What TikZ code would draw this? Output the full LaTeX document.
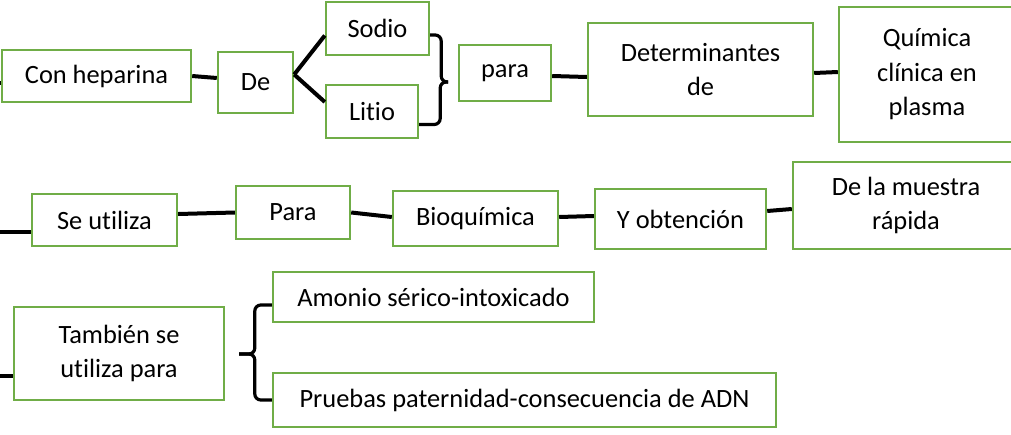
\documentclass[tikz,border=0pt]{standalone}
\usepackage{fontspec}
\setmainfont[Ligatures=NoCommon]{Carlito}
\usepackage{xcolor}
\definecolor{boxgreen}{RGB}{112,173,71}
\usetikzlibrary{positioning,calc}

\begin{document}
\begin{tikzpicture}[x=1pt, y=-1pt,
		box/.style={draw=boxgreen, line width=2.4pt, rectangle, align=center, inner sep=2pt,
			font=\fontsize{26.4}{34.5}\selectfont},
		link/.style={line width=4pt},
		brace/.style={line width=3.2pt, rounded corners=6pt}]
	\fill[white] (0,0) rectangle (1011,434);
	\useasboundingbox (0,0) rectangle (1011,434);
	% fila 1
	\node [box, minimum width=189pt, minimum height=52pt] (heparina) at (96.5,76) {Con heparina};
	\node [box, minimum width=75pt, minimum height=61pt] (de) at (255.5,82.5) {De};
	\node [box, minimum width=103pt, minimum height=53pt] (sodio) at (377.5,28.5) {Sodio};
	\node [box, minimum width=92pt, minimum height=53pt] (litio) at (372,111.5) {Litio};
	\node [box, minimum width=92pt, minimum height=56pt] (para) at (505,73) {para};
	\node [box, minimum width=225pt, minimum height=93pt] (determinantes) at (700.5,69.5) {Determinantes\\de};
	\node [box, minimum width=176pt, minimum height=135pt] (quimica) at (927,74.5) {Química\\clínica en\\plasma};
	\coordinate (s1) at (0,83);
	\coordinate (b1tip) at (448,82);
	\draw [link] (s1) -- ([yshift=-7pt]heparina.west);
	\draw [link] (heparina.east) -- ([yshift=4.5pt]de.west);
	\draw [link] ([yshift=8pt]de.east) -- ([yshift=-7pt]sodio.west);
	\draw [link] ([yshift=8pt]de.east) -- ([yshift=9.5pt]litio.west);
	\draw [brace] ([yshift=-6.5pt]sodio.east) -- ++(11,0) |- (b1tip);
	\draw [brace] ([yshift=-13pt]litio.east) -- ++(21,0) |- (b1tip);
	\draw [link] ([yshift=-3pt]para.east) -- ([yshift=-7.5pt]determinantes.west);
	\draw [link] ([yshift=-3.5pt]determinantes.east) -- ([yshift=2.5pt]quimica.west);
	% fila 2
	\node [box, minimum width=145pt, minimum height=52pt] (seutiliza) at (104.5,220) {Se utiliza};
	\node [box, minimum width=114pt, minimum height=53pt] (para2) at (293,212.5) {Para};
	\node [box, minimum width=165pt, minimum height=55pt] (bioquimica) at (475.5,218.5) {Bioquímica};
	\node [box, minimum width=171pt, minimum height=60pt] (obtencion) at (680.5,219) {Y obtención};
	\node [box, minimum width=226pt, minimum height=87pt] (muestra) at (906,205.5) {De la muestra\\rápida};
	\coordinate (s2) at (0,232);
	\draw [link] (s2) -- ([yshift=-12pt]seutiliza.west);
	\draw [link] ([yshift=6pt]seutiliza.east) -- (para2.west);
	\draw [link] (para2.east) -- ([yshift=1.5pt]bioquimica.west);
	\draw [link] ([yshift=1.5pt]bioquimica.east) -- ([yshift=3pt]obtencion.west);
	\draw [link] ([yshift=8pt]obtencion.east) -- ([yshift=-3.5pt]muestra.west);
	% fila 3
	\node [box, minimum width=210pt, minimum height=93pt] (tambien) at (119,353.5) {También se\\utiliza para};
	\node [box, minimum width=321pt, minimum height=50pt] (amonio) at (433.5,297) {Amonio sérico-intoxicado};
	\node [box, minimum width=503pt, minimum height=54pt] (pruebas) at (524.5,400) {Pruebas paternidad-consecuencia de ADN};
	\coordinate (s3) at (0,376);
	\coordinate (b3tip) at (239,354);
	\draw [link] (s3) -- ([yshift=-22.5pt]tambien.west);
	\draw [brace] ([yshift=-8pt]amonio.west) -- ++(-17,0) |- (b3tip);
	\draw [brace] (pruebas.west) -- ++(-17,0) |- (b3tip);
\end{tikzpicture}
\end{document}
